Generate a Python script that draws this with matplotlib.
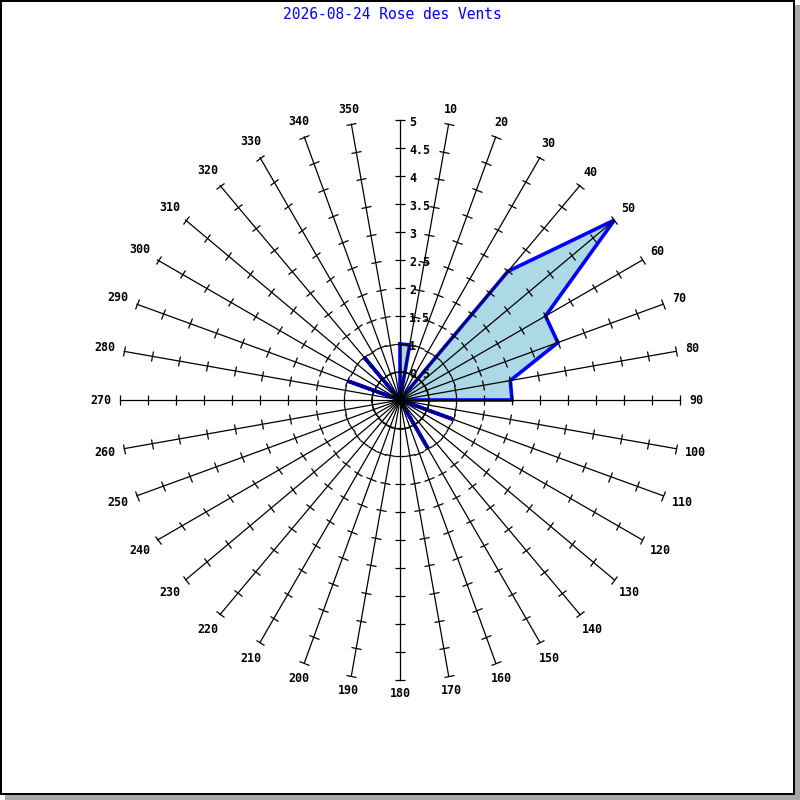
import numpy as np
import matplotlib
matplotlib.use("Agg")
import matplotlib.pyplot as plt
from matplotlib.markers import MarkerStyle
from matplotlib.transforms import Affine2D
from matplotlib.patches import Rectangle

# ---- data ----
directions = [0, 10, 20, 30, 40, 50, 60, 70, 80, 90, 100, 110,
              120, 130, 140, 150, 160, 170, 180, 190, 200, 210, 220, 230,
              240, 250, 260, 270, 280, 290, 300, 310, 320, 330, 340, 350]
values = [1, 1, 0, 0, 3, 5, 3, 3, 2, 2, 0, 1,
          0, 0, 0, 1, 0, 0, 0, 0, 0, 0, 0, 0,
          0, 0, 0, 0, 0, 1, 0, 0, 1, 0, 0, 0]
radial_ticks = [0.5, 1, 1.5, 2, 2.5, 3, 3.5, 4, 4.5, 5]
radial_labels = ["0.5", "1", "1.5", "2", "2.5", "3", "3.5", "4", "4.5", "5"]
title = "2026-08-24 Rose des Vents"
rmax = 5

W = H = 800
fig = plt.figure(figsize=(8, 8), dpi=100)
fig.patch.set_facecolor("white")

# frame with shadow
shadow_col = "#a8a8a8"
fig.add_artist(Rectangle((794 / W, 0), 6 / W, 795 / H, transform=fig.transFigure,
                         facecolor=shadow_col, edgecolor="none"))
fig.add_artist(Rectangle((5 / W, 0), 795 / W, 6 / H, transform=fig.transFigure,
                         facecolor=shadow_col, edgecolor="none"))
fig.add_artist(Rectangle((1 / W, 6.5 / H), 793 / W, 792.5 / H, transform=fig.transFigure,
                         facecolor="none", edgecolor="black", linewidth=1.44))

ax = fig.add_axes([0.15, 0.15, 0.7, 0.7], projection="polar")
ax.set_theta_zero_location("N")
ax.set_theta_direction(-1)
ax.set_ylim(0, rmax)
ax.axis("off")

theta = np.deg2rad(directions)
th_c = np.append(theta, theta[0])
v_c = np.append(values, values[0])

ax.fill(th_c, v_c, facecolor="#add8e6", edgecolor="none", zorder=1)
ax.plot(th_c, v_c, color="#0000ff", lw=2.6, zorder=2, solid_joinstyle="miter")

px = 0.72  # 1 pixel in points
mono = "DejaVu Sans Mono"
for d, t in zip(directions, theta):
    ax.plot([t, t], [0, rmax], color="black", lw=0.9, zorder=3, clip_on=False)
    ms = MarkerStyle("_", transform=Affine2D().rotate_deg(-d))
    ax.plot([t] * len(radial_ticks), radial_ticks, linestyle="none", marker=ms,
            markersize=10 * px, markeredgewidth=0.9, color="black", zorder=3,
            clip_on=False)
    if d == 0:
        continue
    lbl = str(d)
    w = 7 * len(lbl)
    h = 9
    s, c = np.sin(t), np.cos(t)
    extra = 9 + (w / 2) * abs(s) + (h / 2) * abs(c)
    ax.annotate(lbl, xy=(t, rmax), xytext=(extra * s, extra * c),
                textcoords="offset pixels", ha="center", va="center",
                family=mono, fontweight="bold", fontsize=8.4,
                annotation_clip=False)

for r, lbl in zip(radial_ticks, radial_labels):
    ax.annotate(lbl, xy=(0, r), xytext=(9, -2), textcoords="offset pixels",
                ha="left", va="center", family=mono, fontweight="bold",
                fontsize=8.4, annotation_clip=False, zorder=4)

fig.text(392 / W, 1 - 14.5 / H, title, ha="center", va="center", color="#0000ff",
         family=mono, fontsize=10.5)

fig.savefig("out.png", dpi=100)
